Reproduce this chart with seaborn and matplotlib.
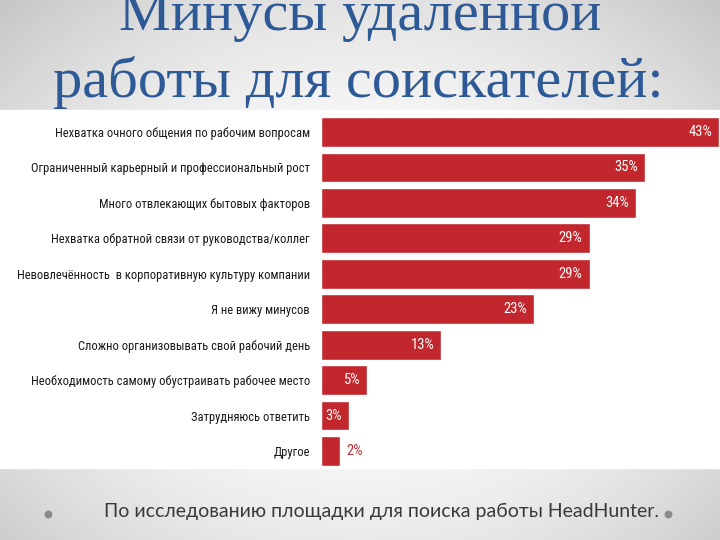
import numpy as np
import pandas as pd
import matplotlib
matplotlib.use("Agg")
import matplotlib.pyplot as plt
from matplotlib import font_manager
import seaborn as sns

categories = [
    "Нехватка очного общения по рабочим вопросам",
    "Ограниченный карьерный и профессиональный рост",
    "Много отвлекающих бытовых факторов",
    "Нехватка обратной связи от руководства/коллег",
    "Невовлечённость  в корпоративную культуру компании",
    "Я не вижу минусов",
    "Сложно организовывать свой рабочий день",
    "Необходимость самому обустраивать рабочее место",
    "Затрудняюсь ответить",
    "Другое",
]
values = [43, 35, 34, 29, 29, 23, 13, 5, 3, 2]
title_lines = ["Минусы удаленной", "работы для соискателей:"]
footer = "По исследованию площадки для поиска работы HeadHunter."

available = {f.name for f in font_manager.fontManager.ttflist}
def pick(*names):
    for n in names:
        if n in available:
            return n
    return "DejaVu Sans"

narrow = pick("Liberation Sans Narrow", "Roboto Condensed", "Liberation Sans", "Roboto")
serif = pick("Liberation Serif", "DejaVu Serif")
footer_font = pick("Lato", "Open Sans", "DejaVu Sans")

sns.set_theme(style="white")
plt.rcParams["font.family"] = [narrow, "DejaVu Sans"]

W, H = 720, 540
fig = plt.figure(figsize=(W / 100, H / 100), dpi=100)

# background radial gradient
bg = fig.add_axes([0, 0, 1, 1], zorder=0)
yy, xx = np.mgrid[0:H, 0:W]
r = np.sqrt(((xx - 360) / 430) ** 2 + ((yy - 290) / 340) ** 2)
shade = 1.0 - 0.16 * np.clip(r, 0, 1.3) ** 2
bg.imshow(shade, cmap="gray", vmin=0, vmax=1, extent=[0, W, H, 0], aspect="auto")
bg.set_xlim(0, W)
bg.set_ylim(H, 0)
bg.axis("off")

# white panel
bg.add_patch(plt.Rectangle((0, 110), W, 358, color="white", zorder=2))

# title
title_color = "#2D5A97"
bg.text(360, 30, title_lines[0], ha="center", va="baseline", fontsize=42,
        color=title_color, family=[serif], zorder=3)
bg.text(358, 97, title_lines[1], ha="center", va="baseline", fontsize=42,
        color=title_color, family=[serif], zorder=3)

# footer and dots
bg.text(382, 517, footer, ha="center", va="baseline", fontsize=14,
        color="#3a3a3a", family=[footer_font], zorder=3)
bg.scatter([48, 668], [514, 514], s=22, color="#8a8a8a", zorder=3)

# bar chart
df = pd.DataFrame({"category": categories, "value": values})
row = 35.44
ax_bottom = (H - (451 + row / 2)) / H
ax_h = 10 * row / H
ax = fig.add_axes([321 / W, ax_bottom, 400 / W, ax_h], zorder=4)
ax.patch.set_alpha(0)
bar_color = "#C1272D"
sns.barplot(data=df, x="value", y="category", orient="h", color=bar_color,
            width=0.84, saturation=1, ax=ax)
ax.set_xlim(0, 43.2)
ax.set_ylim(9.5, -0.5)
ax.set_xlabel("")
ax.set_ylabel("")
ax.set_xticks([])
for s in ax.spines.values():
    s.set_visible(False)
ax.tick_params(axis="y", length=0, pad=8)
for lbl in ax.get_yticklabels():
    lbl.set_fontsize(9)
    lbl.set_color("#1a1a1a")

for patch, v in zip(ax.patches, values):
    xend = patch.get_x() + patch.get_width()
    yc = patch.get_y() + patch.get_height() / 2
    if v >= 3:
        ax.annotate(f"{v}%", (xend, yc), xytext=(-5, 0), textcoords="offset points",
                    ha="right", va="center", color="white", fontsize=10.5)
    else:
        ax.annotate(f"{v}%", (xend, yc), xytext=(5, 0), textcoords="offset points",
                    ha="left", va="center", color="#B8303A", fontsize=10.5)

fig.savefig("out.png", dpi=100)
